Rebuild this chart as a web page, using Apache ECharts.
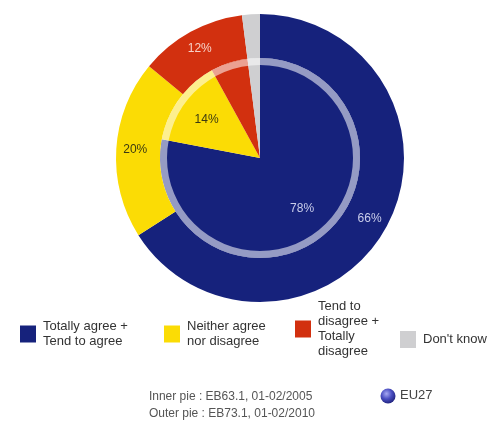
<!DOCTYPE html>
<html><head><meta charset="utf-8">
<script src="https://cdn.jsdelivr.net/npm/echarts@6/dist/echarts.min.js"></script>
<style>html,body{margin:0;padding:0;background:#fff}#c{width:492px;height:422px}</style>
</head><body><div id="c"></div>
<script>
const categories = ["Totally agree +\nTend to agree", "Neither agree\nnor disagree", "Tend to\ndisagree +\nTotally\ndisagree", "Don't know"];
const innerValues2005 = [78, 14, 6, 2];
const outerValues2010 = [66, 20, 12, 2];
const colors = ["#16227c", "#fbdc05", "#d2300f", "#cfcfd1"];
const innerLabelColors = ["#c9cdea", "#3b3a12", "#f6c9bd", "#cfcfd1"];
const outerLabelColors = ["#c9cdea", "#3b3a12", "#f6d2c8", "#cfcfd1"];
const innerLabelsShown = [true, true, false, false];
const outerLabelsShown = [true, true, true, false];
const footnoteLines = ["Inner pie : EB63.1, 01-02/2005", "Outer pie : EB73.1, 01-02/2010"];
const seriesLegend = "EU27";

const FONT = "'Liberation Sans Narrow', 'Liberation Sans', Arial, sans-serif";
const chart = echarts.init(document.getElementById('c'), null, {renderer: 'canvas'});
const center = [260, 158];

function pieData(values, labelColors, shown, transparent) {
  return categories.map((n, i) => ({
    name: n, value: values[i],
    itemStyle: {color: transparent ? 'rgba(0,0,0,0)' : colors[i]},
    label: {show: shown[i], color: labelColors[i]}
  }));
}
const labelBase = {position: 'inside', formatter: '{c}%', fontFamily: FONT, fontSize: 12};

const legendLefts = [20, 164, 295, 400];
const legendTops = [319, 319, 299, 331];
const legends = categories.map((n, i) => ({
  left: legendLefts[i], top: legendTops[i], padding: 0,
  itemWidth: 16, itemHeight: 17, icon: 'rect', selectedMode: false,
  data: [{name: n, itemStyle: {color: colors[i]}}],
  textStyle: {fontFamily: FONT, fontSize: 13, color: '#333', lineHeight: 15, padding: [0, 0, 0, 2]}
}));

chart.setOption({
  animation: false,
  legend: legends,
  series: [
    {type: 'pie', radius: [0, 100], center, startAngle: 90, clockwise: true, silent: true,
     label: {show: false}, labelLine: {show: false},
     data: pieData(innerValues2005, innerLabelColors, [false,false,false,false], false)},
    {type: 'pie', radius: [100, 144], center, startAngle: 90, clockwise: true, silent: true,
     label: labelBase, labelLine: {show: false},
     data: pieData(outerValues2010, outerLabelColors, outerLabelsShown, false)},
    {type: 'pie', radius: [93, 100], center, silent: true, label: {show: false}, labelLine: {show: false},
     itemStyle: {color: 'rgba(255,255,255,0.55)'}, data: [{name: '', value: 1}]},
    {type: 'pie', radius: [26, 100], center, startAngle: 90, clockwise: true, silent: true,
     label: labelBase, labelLine: {show: false},
     data: pieData(innerValues2005, innerLabelColors, innerLabelsShown, true)}
  ],
  graphic: [
    {type: 'text', right: 492 - 315, top: 388,
     style: {text: footnoteLines.join('\n'), fill: '#555', font: '12px ' + FONT, align: 'right', lineHeight: 17}},
    {type: 'circle', shape: {cx: 388, cy: 396, r: 7.5},
     style: {fill: new echarts.graphic.RadialGradient(0.4, 0.35, 0.7, [
       {offset: 0, color: '#a7a9f2'}, {offset: 0.5, color: '#4b4fc2'}, {offset: 1, color: '#1d1f78'}])}},
    {type: 'text', left: 400, top: 389, style: {text: seriesLegend, fill: '#444', font: '13px ' + FONT}}
  ]
});
</script></body></html>
